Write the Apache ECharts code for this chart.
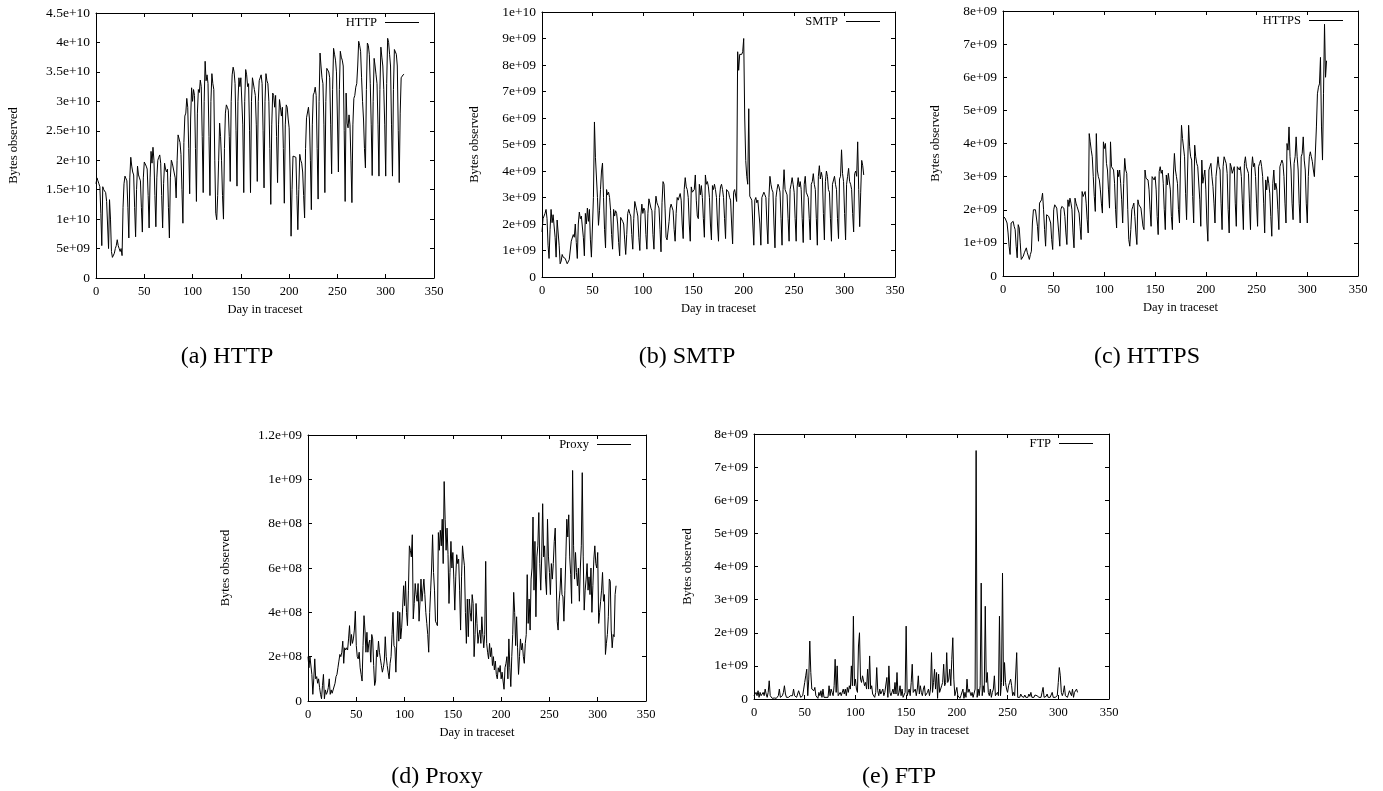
<!DOCTYPE html>
<html><head><meta charset="utf-8">
<script src="https://cdn.jsdelivr.net/npm/echarts@6/dist/echarts.min.js"></script>
<style>html,body{margin:0;padding:0;background:#fff}#c{width:1383px;height:791px}</style>
</head><body><div id="c"></div>
<script>
// ---------- DATA (day index = position in array) ----------
const dayTicks = ['0','50','100','150','200','250','300','350'];

// HTTP, units of 1e9 bytes
const httpValues = [
16,17,16.5,16,15.5,11,5.5,
15.5,15,15.2,14.5,13,9,5,
13.3,10,4.5,3.5,3.6,4.2,5,
5.5,6.5,5.5,5.0,4.5,5.0,3.8,
12,16,17.3,17,16.5,12,6.8,
17,20.5,19,18,17.5,12,7,
15,19,17.5,17,16.5,12,7.8,
17,19.7,19.8,19,18.5,14,8.5,
17,21.5,19.5,22.2,20,14,8.7,
17,20,20.5,20.9,19.5,14,8.5,
16,19.5,18.5,18,18.5,12,6.8,
17,20,19.5,19.8,19.5,17,13.6,
20,24.3,24,23,21,15,9.3,
23,27.5,28,30.5,29,22,14.3,
27,32.3,30,32,31,22,13,
28,32,31.5,33.6,32.5,24,14.5,
30,36.8,33.5,34.5,33,24,14,
30,34.7,33,32,20,11,9.9,
14,20,26.3,24,20,14,10,
22,28,29.4,29,28.5,24,16.4,
30,34.5,35.8,35,33,25,15.6,
30,34,32.5,34,34,26,14.5,
30,35.4,34.5,32.5,33,25,14.5,
30,34,34,32,31,26,16.4,
30,33.5,33.5,34.5,33,25,15.3,
30,34.7,33.5,33,30,22,12.5,
26,31.4,31,29,31,24,16.2,
26,30.3,29,27.5,29,22,12.7,
26,29.4,29,27,25.5,18,7.1,
15,20.7,20.5,21,20.5,14,8.2,
15,21,20,19.5,18,14,10.2,
22,27.2,27.5,29,27,20,11.6,
26,31.1,31.5,32.4,31,22,13.4,
30,38.2,36,34,33,26,14.5,
30,35.6,35.5,35,34,26,17.7,
32,39,38,37,35,27,18,
32,38.5,37.5,37,36,25,13,
31.4,26.3,25.5,27.7,26,20,12.8,
26,30.5,31,32.4,33,36,40.2,
39.5,38.5,34,30,27,22,18.7,
32,39.9,39.5,38,33,26,17.4,
30,37.3,36,34.5,33,26,17.3,
32,39.2,37.5,36,32,26,17.3,
33,40.7,40,38,36,26,17.3,
32,38.8,38.5,38,36,25,16.2,
28,34,34.3,34.5,34.6
];
const httpTicks = ['0','5e+09','1e+10','1.5e+10','2e+10','2.5e+10','3e+10','3.5e+10','4e+10','4.5e+10'];

// SMTP, units of 1e9 bytes
const smtpValues = [
1.7,
2.2,2.3,2.4,2.55,2.2,1.2,0.7,
1.8,2.55,2.05,2.35,2.3,1.5,0.75,
2.15,2.1,1.2,0.5,0.6,0.85,0.75,
0.75,0.7,0.6,0.5,0.55,0.65,0.7,
1.35,1.4,1.6,1.5,2.0,1.3,0.7,
2.0,2.45,2.2,2.3,2.25,1.5,0.8,
2.4,2.0,2.6,2.1,2.55,1.4,0.75,
0.8,3.0,5.85,4.5,4.55,3.0,1.95,
2.5,3.3,4.0,4.3,3.0,1.8,1.1,
3.3,3.1,3.2,3.0,2.5,1.6,1.05,
2.55,2.3,2.5,2.4,2.0,1.3,0.8,
2.25,2.2,2.1,2.0,1.4,0.85,1.6,
2.4,2.55,2.4,2.3,1.6,1.05,2.2,
2.85,2.8,2.5,2.3,1.5,1.0,2.3,
2.75,2.4,2.6,2.5,1.6,1.05,2.4,
2.95,3.0,2.6,2.5,1.6,1.05,2.5,
3.05,2.8,2.7,2.6,1.8,0.95,2.8,
3.6,3.5,2.6,1.5,1.4,1.35,2.1,
2.6,2.75,2.8,2.5,1.8,1.35,2.4,
3.0,2.9,2.95,3.15,2.9,2.0,1.45,
3.3,3.75,3.4,3.3,3.0,2.0,1.35,
3.4,3.2,3.15,3.3,3.85,2.9,2.3,
2.2,3.5,3.1,3.45,3.0,2.2,1.5,
3.85,3.5,3.6,3.4,3.0,2.0,1.4,
3.45,3.3,3.5,3.3,3.0,2.0,1.35,
3.0,3.4,3.5,3.3,3.0,2.2,1.45,
3.3,3.35,3.2,3.0,2.9,2.0,1.25,
3.2,3.3,3.35,2.85,8.5,7.8,8.4,
8.45,8.4,8.5,9.0,6.0,4.4,3.8,
3.5,6.35,3.05,3.0,2.9,2.0,1.2,
2.9,3.0,2.8,2.9,2.9,2.0,1.2,
3.0,2.95,3.2,3.1,3.0,2.0,1.25,
3.0,3.8,3.5,3.3,3.2,2.0,1.1,
3.0,3.3,3.5,3.4,3.2,2.2,1.2,
3.3,4.05,3.3,3.3,3.1,2.2,1.35,
3.3,3.5,3.75,3.5,3.2,2.2,1.35,
3.4,3.75,3.4,3.6,3.3,2.2,1.3,
3.5,3.8,3.2,3.2,3.0,2.2,1.4,
3.5,3.6,3.9,3.5,3.3,2.2,1.2,
3.8,4.2,3.7,3.95,3.75,2.4,1.4,
3.6,4.0,3.8,3.3,3.2,2.2,1.35,
3.5,3.55,3.8,3.5,3.3,2.2,1.45,
3.7,3.8,4.8,3.9,3.6,2.4,1.4,
3.5,3.8,4.1,3.6,3.5,3.3,2.4,
1.7,3.9,4.0,3.8,5.1,3.3,1.9,
3.2,4.4,4.2,3.85
];
const smtpTicks = ['0','1e+09','2e+09','3e+09','4e+09','5e+09','6e+09','7e+09','8e+09','9e+09','1e+10'];

// HTTPS, units of 1e9 bytes
const httpsValues = [
1.8,
1.8,1.75,1.7,1.6,1.3,0.9,0.65,
1.6,1.55,1.65,1.5,1.4,0.9,0.55,
1.55,1.45,1.0,0.5,0.45,0.6,0.7,
0.75,0.85,0.7,0.6,0.5,0.65,0.75,
1.6,2.0,1.95,2.0,1.95,1.5,1.05,
2.2,2.2,2.3,2.5,2.0,1.4,0.9,
1.85,1.85,1.8,1.75,1.6,1.1,0.8,
2.0,2.15,2.1,2.05,2.0,1.3,0.9,
2.0,2.1,2.1,2.05,1.8,1.3,0.95,
2.3,2.1,2.35,2.2,2.0,1.3,0.85,
2.35,2.2,2.1,2.1,1.9,1.5,1.1,
2.55,2.4,2.45,2.55,2.2,1.7,1.3,
4.3,4.05,3.8,3.6,3.0,2.4,1.95,
4.3,3.2,3.0,2.9,2.6,2.2,1.9,
4.05,3.85,4.0,3.4,3.2,2.6,2.05,
4.05,3.3,3.25,3.2,2.8,2.0,1.45,
3.2,3.0,3.2,2.8,2.3,1.6,2.8,
3.55,3.2,3.1,2.0,1.1,0.9,1.4,
2.0,2.1,2.2,1.8,1.3,0.95,2.3,
2.15,2.1,2.05,2.0,1.5,1.4,3.2,
2.95,2.95,2.9,2.6,2.0,1.5,3.0,
3.05,2.9,3.0,2.6,1.8,1.25,3.15,
3.3,3.1,3.2,2.8,2.0,1.4,3.05,
2.75,3.1,3.1,2.6,1.8,1.4,3.05,
3.7,3.2,3.0,2.8,2.0,1.6,3.5,
4.55,4.15,4.2,3.6,2.5,1.7,3.2,
4.55,3.9,3.6,3.5,2.4,1.6,3.95,
3.6,3.4,3.3,3.3,2.3,1.5,3.5,
2.8,3.0,3.2,2.6,1.6,1.05,3.2,
3.3,3.4,3.0,2.7,2.2,1.6,3.0,
3.0,3.6,3.3,3.2,2.2,1.4,3.3,
3.6,3.5,3.4,3.1,2.0,1.3,3.4,
3.3,3.1,3.2,3.3,2.2,1.5,3.3,
3.3,3.2,3.3,3.0,2.2,1.4,3.4,
3.6,3.3,3.2,3.1,2.2,1.4,3.2,
3.6,3.3,3.4,3.0,2.2,1.5,3.3,
3.4,3.5,3.3,3.0,2.2,1.3,2.9,
2.6,3.0,2.8,2.5,1.8,1.2,2.8,
3.2,2.6,2.8,2.6,2.0,1.4,3.3,
3.4,3.5,3.4,3.0,2.2,1.6,4.0,
3.8,4.5,3.6,3.2,2.2,1.7,3.4,
3.6,4.2,3.6,3.2,2.2,1.6,3.6,
3.7,4.2,3.5,3.2,2.2,1.6,3.0,
3.6,3.75,3.6,3.45,3.2,3.0,3.0,
4.5,5.5,5.7,5.8,6.6,4.5,3.5,
5.5,7.6,6.0,6.5
];
const httpsTicks = ['0','1e+09','2e+09','3e+09','4e+09','5e+09','6e+09','7e+09','8e+09'];

// Proxy, units of 1e8 bytes
const proxyValues = [
2.0,1.5,2.0,2.0,1.2,0.3,1.0,1.9,1.0,1.1,
0.8,1.0,0.6,0.3,0.1,0.7,1.2,0.1,0.5,0.3,
0.4,0.6,1.0,0.3,0.5,0.35,0.4,0.35,0.8,1.1,
1.2,1.5,1.8,2.1,2.0,2.2,2.7,1.7,2.4,2.3,
2.4,2.3,2.8,3.4,2.5,3.0,2.6,2.8,3.2,4.05,
2.5,2.0,1.9,2.2,1.5,1.2,0.9,2.5,3.85,3.2,
2.2,3.1,2.2,2.6,2.75,1.75,3.0,2.8,1.6,0.7,
0.9,2.3,2.0,2.7,2.2,1.9,1.6,1.3,1.5,1.8,
2.9,2.0,1.6,1.3,1.0,1.7,2.0,3.0,4.0,2.5,
2.4,1.3,2.8,4.05,2.7,4.0,2.8,3.3,4.2,5.2,
4.3,5.4,4.0,3.4,5.0,7.0,6.8,6.5,7.5,3.7,
4.4,5.3,4.8,4.5,5.3,3.6,4.5,5.5,4.5,5.0,
5.5,4.8,4.0,3.5,3.0,2.2,4.0,5.0,6.0,7.5,
5.8,5.0,3.6,3.5,3.4,7.6,6.8,7.7,7.0,8.2,
6.2,9.9,8.2,6.8,7.8,6.6,4.4,5.8,7.2,6.0,
6.7,5.5,4.1,5.6,6.6,6.2,6.4,5.0,3.2,5.6,
7.0,6.5,6.1,4.0,2.6,4.6,2.9,4.6,4.0,3.6,
4.8,4.4,2.0,3.0,4.4,3.5,2.6,3.0,3.2,2.6,
3.8,3.0,2.4,3.0,6.3,2.6,2.2,1.9,2.6,2.0,
2.4,1.6,2.0,1.4,1.8,1.2,1.0,1.5,1.3,1.6,
1.0,1.3,0.9,0.53,1.5,1.7,2.0,1.0,2.8,1.5,
0.65,2.0,3.0,4.9,4.0,2.5,3.8,2.4,1.2,2.0,
2.8,2.3,2.6,2.0,1.7,2.6,3.0,5.7,3.5,4.6,
3.2,5.5,6.0,8.3,5.0,7.2,3.8,6.5,7.0,8.5,
6.2,5.0,6.5,8.9,6.5,7.0,5.5,4.8,8.2,6.5,
5.8,4.8,6.2,5.5,6.2,7.2,7.8,5.5,3.6,3.2,
4.5,5.0,6.0,4.8,4.7,3.6,5.0,6.5,8.2,7.4,
8.4,6.5,5.7,4.4,10.4,7.0,5.5,6.7,5.8,5.2,
6.0,4.5,6.0,7.0,10.3,6.5,4.1,5.0,5.5,6.2,
5.0,5.6,4.8,6.0,4.0,5.2,6.4,7.0,6.2,6.0,
6.7,3.5,4.0,4.5,5.0,5.8,4.5,4.8,2.1,2.6,
3.0,3.8,5.5,5.4,3.2,2.4,3.0,2.9,4.8,5.2
];
const proxyTicks = ['0','2e+08','4e+08','6e+08','8e+08','1e+09','1.2e+09'];

// FTP, units of 1e9 bytes
const ftpValues = [
0.1,0.05,0.2,0.1,0.25,0.05,0.2,0.1,0.05,0.2,
0.1,0.3,0.15,0.05,0.2,0.55,0.1,0.05,0.02,0.05,
0.03,0.05,0.02,0.05,0.1,0.3,0.05,0.02,0.1,0.2,
0.4,0.15,0.05,0.1,0.05,0.02,0.1,0.05,0.1,0.3,
0.1,0.05,0.05,0.1,0.25,0.15,0.05,0.02,0.1,0.3,
0.5,0.7,0.9,0.1,0.6,1.75,0.8,0.3,0.3,0.25,
0.35,0.1,0.05,0.02,0.2,0.1,0.25,0.05,0.3,0.05,
0.02,0.05,0.1,0.05,0.4,0.1,0.3,0.2,0.1,0.4,
1.2,0.2,1.0,0.1,0.05,0.2,0.1,0.05,0.3,0.15,
0.3,0.1,0.35,0.2,0.4,0.3,1.0,0.4,2.5,0.4,
0.6,0.3,0.2,1.6,2.0,0.6,0.5,0.7,0.75,0.4,
0.5,0.3,0.9,0.3,1.3,0.3,0.4,0.15,0.2,0.05,
0.2,0.95,0.25,0.1,0.3,0.15,0.2,0.3,0.1,0.2,
0.15,0.65,0.05,1.0,0.2,0.1,0.05,0.3,0.15,0.5,
0.15,0.8,0.1,0.2,0.4,0.1,0.3,0.05,0.1,0.2,
2.2,0.1,0.2,0.3,0.1,0.5,1.05,0.2,0.15,0.3,
0.1,0.3,0.7,0.15,0.4,0.2,0.1,0.3,0.4,0.1,
0.15,0.2,0.3,0.1,0.3,1.4,0.2,0.5,0.9,0.3,
0.8,0.02,0.75,0.2,0.3,0.4,0.5,1.05,0.4,0.5,
1.4,0.5,0.6,0.9,0.4,1.2,1.85,0.6,0.1,0.05,
0.35,0.1,0.05,0.02,0.1,0.05,0.3,0.02,0.2,0.05,
0.6,0.2,0.3,0.25,0.1,0.2,0.05,0.1,0.3,7.5,
0.05,0.3,0.1,0.4,3.5,0.1,0.4,0.2,2.8,0.5,
0.8,0.2,0.1,0.3,0.05,0.2,0.3,0.7,0.1,0.05,
0.2,0.1,2.5,0.1,0.5,3.8,0.4,1.1,0.5,0.3,
0.2,0.4,0.5,0.6,0.4,0.1,0.2,0.1,0.05,1.4,
0.05,0.1,0.05,0.15,0.08,0.1,0.05,0.12,0.05,0.1,
0.05,0.15,0.08,0.2,0.05,0.1,0.05,0.12,0.08,0.1,
0.15,0.05,0.1,0.05,0.2,0.35,0.05,0.1,0.08,0.15,
0.05,0.1,0.05,0.08,0.2,0.05,0.1,0.05,0.08,0.1,
0.5,0.95,0.7,0.2,0.1,0.2,0.4,0.1,0.15,0.05,
0.1,0.25,0.2,0.1,0.3,0.05,0.2,0.15,0.3,0.2
];
const ftpTicks = ['0','1e+09','2e+09','3e+09','4e+09','5e+09','6e+09','7e+09','8e+09'];

// ---------- LAYOUT ----------
const SERIF = 'Liberation Serif';
const panels = [
  {name:'HTTP',  values:httpValues,  ticks:httpTicks,  interval:5, max:45,
   grid:{left:96, top:13, width:338, height:265}, yGap:76, legendRight:964, legendTop:16,
   caption:'(a) HTTP', cx:227, cy:357},
  {name:'SMTP',  values:smtpValues,  ticks:smtpTicks,  interval:1, max:10,
   grid:{left:542, top:12, width:353, height:265}, yGap:61, legendRight:503, legendTop:15,
   caption:'(b) SMTP', cx:687, cy:357},
  {name:'HTTPS', values:httpsValues, ticks:httpsTicks, interval:1, max:8,
   grid:{left:1003, top:11, width:355, height:265}, yGap:61, legendRight:40, legendTop:14,
   caption:'(c) HTTPS', cx:1147, cy:357},
  {name:'Proxy', values:proxyValues, ticks:proxyTicks, interval:2, max:12,
   grid:{left:308, top:435, width:338, height:266}, yGap:76, legendRight:752, legendTop:438,
   caption:'(d) Proxy', cx:437, cy:777},
  {name:'FTP',   values:ftpValues,   ticks:ftpTicks,   interval:1, max:8,
   grid:{left:754, top:434, width:355, height:265}, yGap:60, legendRight:290, legendTop:437,
   caption:'(e) FTP', cx:899, cy:777}
];

const axisLine = {show:true, onZero:false, lineStyle:{color:'#000', width:1}};
const tickIn = {show:true, inside:true, length:4, lineStyle:{color:'#000', width:1}};
const grids = [], xAxes = [], yAxes = [], series = [], legends = [], graphics = [];

panels.forEach((p, i) => {
  grids.push(Object.assign({containLabel:false, show:false}, p.grid));
  const xBase = {gridIndex:i, type:'value', min:0, max:350, interval:50,
    axisLine, axisTick:tickIn, splitLine:{show:false}};
  xAxes.push(Object.assign({}, xBase, {position:'bottom',
    axisLabel:{show:true, margin:7, color:'#000', fontFamily:SERIF, fontSize:12.5,
      formatter:(v)=>dayTicks[Math.round(v/50)]},
    name:'Day in traceset', nameLocation:'middle', nameGap:25,
    nameTextStyle:{color:'#000', fontFamily:SERIF, fontSize:12.5}}));
  xAxes.push(Object.assign({}, xBase, {position:'top', axisLabel:{show:false}}));
  const yBase = {gridIndex:i, type:'value', min:0, max:p.max, interval:p.interval,
    axisLine, axisTick:tickIn, splitLine:{show:false}};
  yAxes.push(Object.assign({}, yBase, {position:'left',
    axisLabel:{show:true, margin:6, color:'#000', fontFamily:SERIF, fontSize:13.5,
      formatter:(v)=>p.ticks[Math.round(v/p.interval)]},
    name:'Bytes observed', nameLocation:'middle', nameRotate:90, nameGap:p.yGap,
    nameTextStyle:{color:'#000', fontFamily:SERIF, fontSize:12.5}}));
  yAxes.push(Object.assign({}, yBase, {position:'right', axisLabel:{show:false}}));
  series.push({
    name:p.name, type:'line', xAxisIndex:2*i, yAxisIndex:2*i,
    data:p.values.map((v, d) => [d, v]),
    symbol:'none', showSymbol:false, clip:true, sampling:null,
    lineStyle:{color:'#000', width:1}, itemStyle:{color:'#000'}
  });
  legends.push({
    data:[p.name], right:p.legendRight, top:p.legendTop, orient:'horizontal', padding:0,
    align:'right', icon:'rect', itemWidth:34, itemHeight:1.2, selectedMode:false,
    textStyle:{color:'#000', fontFamily:SERIF, fontSize:12.5, padding:[0,3,0,0]}
  });
  graphics.push({type:'text', x:p.cx, y:p.cy,
    style:{text:p.caption, fill:'#000', font:'24px "Liberation Serif"',
      align:'center', verticalAlign:'middle'}});
});

const chart = echarts.init(document.getElementById('c'), null, {renderer:'canvas'});
chart.setOption({
  animation:false, backgroundColor:'#fff',
  grid:grids, xAxis:xAxes, yAxis:yAxes, series, legend:legends, graphic:graphics
});
</script>
</body></html>
